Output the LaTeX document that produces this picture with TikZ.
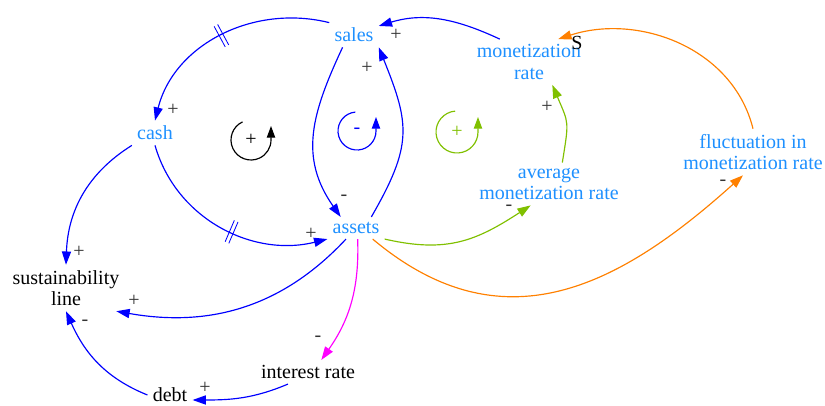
\documentclass[tikz,border=0pt]{standalone}
\usepackage{fontspec}
\setmainfont{Liberation Serif}
\usetikzlibrary{arrows.meta,decorations.markings}

\definecolor{varblue}{RGB}{30,144,255}
\definecolor{cldorange}{RGB}{255,128,0}
\definecolor{cldgreen}{RGB}{128,192,0}
\definecolor{cldmagenta}{RGB}{255,0,255}

\begin{document}
\begin{tikzpicture}[x=0.6pt, y=0.6pt,
  var/.style={align=center, font=\rmfamily\fontsize{12}{13}\selectfont, text=varblue, inner sep=3pt},
  const/.style={var, text=black},
  pol/.style={font=\rmfamily\fontsize{12}{13}\selectfont, text=black!80, inner sep=0pt},
  link/.style={-{Triangle[length=8pt,width=5.5pt]}, line width=0.7pt, blue},
  delay/.style={postaction={decorate, decoration={markings,
    mark=at position #1 with {\draw[-, line width=0.5pt] (-1.2pt,-7pt) -- (-1.2pt,7pt) (1.2pt,-7pt) -- (1.2pt,7pt);}}}},
  loopsign/.style={-{Triangle[length=7pt,width=5pt]}, line width=0.7pt},
]
  \useasboundingbox (0,0) rectangle (825,-406);

  % --- variables -----------------------------------------------------
  \node[var] (sales) at (354,-35) {sales};
  \node[var] (monrate) at (529,-62) {monetization\\ rate};
  \node[var] (cash) at (155,-133) {cash};
  \node[var] (assets) at (356,-228) {assets};
  \node[var] (avgrate) at (549,-184) {average\\ monetization rate};
  \node[var] (fluct) at (753,-152) {fluctuation in\\ monetization rate};
  \node[const] (sust) at (66,-288) {sustainability\\ line};
  \node[const] (intrate) at (308,-372) {interest rate};
  \node[const] (debt) at (170,-395) {debt};

  % --- loop markers --------------------------------------------------
  \node[pol, text=black] (loopR) at (251,-140) {+};
  \draw[loopsign, black] (loopR.center) ++(115:20) arc[start angle=115, end angle=360, radius=20] -- ++(0,14);
  \node[pol, text=blue] (loopB) at (357,-131) {-};
  \draw[loopsign, blue] (loopB.center) ++(95:19) arc[start angle=95, end angle=360, radius=19] -- ++(0,14);
  \node[pol, text=cldgreen] (loopG) at (457,-132) {+};
  \draw[loopsign, cldgreen] (loopG.center) ++(95:21) arc[start angle=95, end angle=360, radius=21] -- ++(0,15);

  % --- blue links ----------------------------------------------------
  \draw[link, delay=0.5] (sales.north west) to[out=166, in=76] (cash.north);
  \draw[link] (cash.south west) to[out=212, in=88] (sust.north);
  \draw[link, delay=0.55] (cash.south) to[out=-74, in=194] (assets.south west);
  \draw[link] ([xshift=8pt]sales.south west) to[out=245, in=125, looseness=1.1] ([xshift=8pt]assets.north west);
  \draw[link] ([xshift=-8pt]assets.north east) to[out=60, in=-68, looseness=1.25] (sales.south east);
  \draw[link] ([xshift=17pt]monrate.north west) to[out=155, in=17] ([yshift=-2pt]sales.north east);
  \draw[link] ([xshift=-6pt]assets.south) to[out=227, in=-10] ([xshift=-5pt]sust.south east);
  \draw[link] ([xshift=-12pt]intrate.south) to[out=203, in=0] ([yshift=-3pt]debt.east);
  \draw[link] (debt.west) to[out=158, in=-66] (sust.south);

  % --- coloured links ------------------------------------------------
  \draw[link, cldorange] (fluct.north) to[out=104, in=18] ([xshift=-17pt]monrate.north east);
  \draw[link, cldgreen] ([xshift=8pt]avgrate.north) to[out=81, in=-67, looseness=1.4] ([xshift=14pt]monrate.south);
  \draw[link, cldgreen] (assets.south east) to[out=-13, in=213, looseness=1.1] ([xshift=-11pt]avgrate.south);
  \draw[link, cldorange] ([xshift=10pt]assets.south) to[out=-40, in=222, looseness=1.15] ([xshift=-6pt]fluct.south);
  \draw[link, cldmagenta] ([xshift=1pt]assets.south) to[out=-88, in=55] ([xshift=8pt]intrate.north);

  % --- polarities ----------------------------------------------------
  \node[pol] (pSC) at (173,-110) {+};
  \node[pol] (pCL) at (79,-252) {+};
  \node[pol] (pCA) at (311,-234) {+};
  \node[pol] (pSA) at (344,-198) {-};
  \node[pol] (pAS) at (367,-68) {+};
  \node[pol] (pMS) at (396,-35) {+};
  \node[pol, text=black] (pFM) at (577,-43) {S};
  \node[pol] (pVM) at (547,-107) {+};
  \node[pol] (pAV) at (509,-208) {-};
  \node[pol] (pAF) at (723,-183) {-};
  \node[pol] (pAL) at (134,-301) {+};
  \node[pol] (pAI) at (318,-339) {-};
  \node[pol] (pID) at (205,-388) {+};
  \node[pol] (pDL) at (85,-323) {-};
\end{tikzpicture}
\end{document}
